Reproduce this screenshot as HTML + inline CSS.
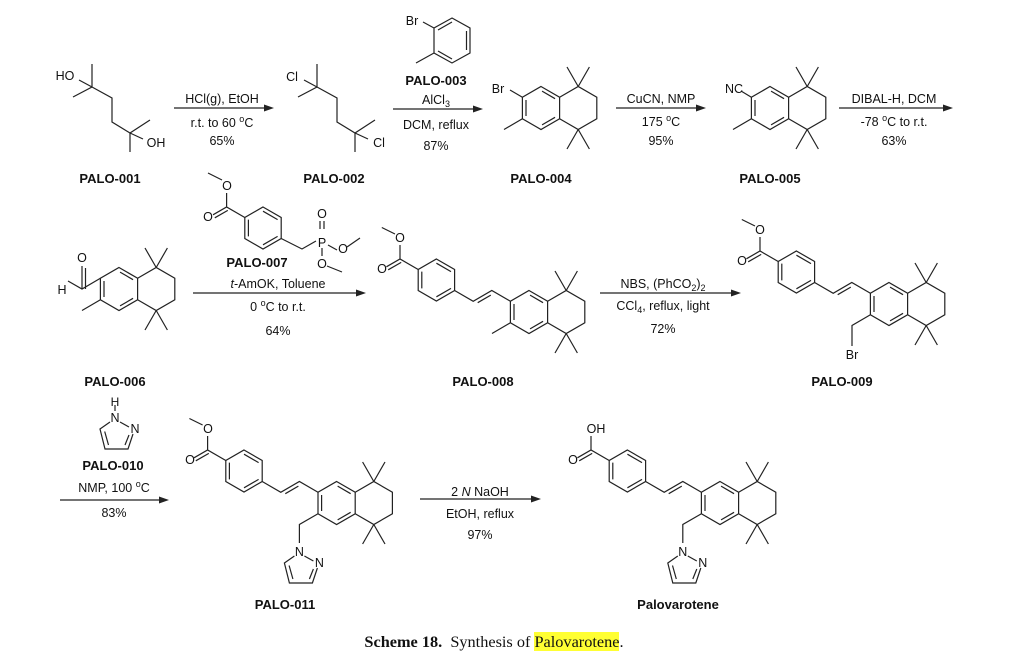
<!DOCTYPE html>
<html><head><meta charset="utf-8"><style>
html,body{margin:0;padding:0;background:#fff;}
#w{position:relative;width:1024px;height:668px;overflow:hidden;}
svg{display:block;}
text{font-family:"Liberation Sans",sans-serif;font-size:12.5px;fill:#111;}
.b{font-weight:bold;font-size:13px;}
.a{font-size:12px;}
#cap{position:absolute;left:-18px;top:632px;width:1024px;text-align:center;font-family:"Liberation Serif",serif;font-size:16.3px;color:#111;line-height:20px;}
#cap span.h{background:#ffff33;}
</style></head><body><div id="w">
<svg width="1024" height="668" viewBox="0 0 1024 668" xmlns="http://www.w3.org/2000/svg">
<defs>
<g id="tet" fill="none" stroke="#222" stroke-width="1.2">
<path d="M0,-21.5 L18.6,-10.75 L18.6,10.75 L0,21.5 L-18.6,10.75 L-18.6,-10.75 Z"/>
<path d="M18.6,-10.75 L37.2,-21.5 L55.8,-10.75 L55.8,10.75 L37.2,21.5 L18.6,10.75"/>
<path d="M37.2,-21.5 L26,-41 M37.2,-21.5 L48.4,-41 M37.2,21.5 L26,41 M37.2,21.5 L48.4,41"/>
<path d="M-15,-8 L-15,8 M1.04,-16.87 L14.06,-9.33 M14.06,9.33 L1.04,16.87"/>
</g>
<g id="bz" fill="none" stroke="#222" stroke-width="1.2">
<path d="M0,-21 L18.2,-10.5 L18.2,10.5 L0,21 L-18.2,10.5 L-18.2,-10.5 Z"/>
<path d="M0,-16.8 L14.6,-8.4 M14.6,8.4 L0,16.8 M-14.6,8.4 L-14.6,-8.4"/>
<path d="M-18.2,-10.5 L-36.4,-21 L-50,-13.2 M-35.2,-17.6 L-48.2,-10.2 M-36.4,-21 L-36.4,-35"/>
</g>
<g id="stil" fill="none" stroke="#222" stroke-width="1.2">
<path d="M-18.6,-10.75 L-37.2,-21.5 L-55.8,-10.75 L-74.4,-21.5"/>
<path d="M-38.2,-16.9 L-51.3,-9.3"/>
</g>
<g id="pz" fill="none" stroke="#222" stroke-width="1.2">
<path d="M5,4 L14,9 M18,16 L13,31 L-10,31 L-15,11 L-5,4"/>
<path d="M-6.5,27 L-10.3,13.5 M10,27 L14,17"/>
</g>
</defs>

<g fill="none" stroke="#222" stroke-width="1.2">
<path d="M79,80 L92,87 M92,64 L92,87 L73,97 M92,87 L112,98 L112,122 L130,133 L150,120 M130,133 L130,152 M130,133 L143,139"/>
<path d="M304,80 L317,87 M317,64 L317,87 L298,97 M317,87 L337,98 L337,122 L355,133 L375,120 M355,133 L355,152 M355,133 L368,139"/>
<path d="M452,18 L470,28 L470,53 L452,63 L434,53 L434,28 Z M466.5,31 L466.5,50 M452,59 L438,51 M438,30 L452,22 M434,28 L423,22 M434,53 L416,63"/>
<path d="M522.4,97.25 L510,90 M522.4,118.75 L504,129.5"/>
<path d="M751.4,97.25 L741,91 M751.4,118.75 L733,129.5"/>
<path d="M100.4,278.25 L82,289 L68,281 M82,289 L82,266 M85.5,289 L85.5,268 M100.4,299.75 L82,310.5"/>
<path d="M281.2,238.5 L302,249 L316,241 M320,229 L320,221 M324,229 L324,221 M328,245 L337,250 M347,247 L360,238 M322,248 L322,256 M327,266 L342,272 M222,180 L208,173"/>
<path d="M510.4,322.75 L492,333.5"/>
<path d="M870.4,314.75 L852,325.5 L852,346"/>
<path d="M318,513.75 L299.4,524.5 L299.4,543"/>
<path d="M701.4,513.75 L682.8,524.5 L682.8,543"/>
<path d="M115,405 L115,411"/>
</g>

<use href="#tet" x="541" y="108"/>
<use href="#tet" x="770" y="108"/>
<use href="#tet" x="119" y="289"/>
<use href="#tet" x="529" y="312"/>
<use href="#tet" x="889" y="304"/>
<use href="#tet" x="336.6" y="503"/>
<use href="#tet" x="720" y="503"/>
<use href="#stil" x="529" y="312"/>
<use href="#stil" x="889" y="304"/>
<use href="#stil" x="336.6" y="503"/>
<use href="#stil" x="720" y="503"/>
<use href="#bz" x="263" y="228"/>
<use href="#bz" x="436.4" y="280"/>
<use href="#bz" x="796.4" y="272"/>
<use href="#bz" x="244" y="471"/>
<use href="#bz" x="627.4" y="471"/>
<g fill="none" stroke="#222" stroke-width="1.2">
<path d="M395,234 L381.8,227.5 M755,226 L741.8,219.5 M202.6,425 L189.4,418.5"/>
</g>
<use href="#pz" x="115" y="418"/>
<use href="#pz" x="299.4" y="552"/>
<use href="#pz" x="682.8" y="552"/>

<g stroke="#222" stroke-width="1.2">
<line x1="174" y1="108" x2="266" y2="108"/>
<line x1="393" y1="109" x2="476" y2="109"/>
<line x1="616" y1="108" x2="698" y2="108"/>
<line x1="839" y1="108" x2="945" y2="108"/>
<line x1="193" y1="293" x2="358" y2="293"/>
<line x1="600" y1="293" x2="733" y2="293"/>
<line x1="60" y1="500" x2="161" y2="500"/>
<line x1="420" y1="499" x2="533" y2="499"/>
</g>
<g fill="#222">
<path d="M274,108 L264,104.5 L264,111.5 Z"/>
<path d="M483,109 L473,105.5 L473,112.5 Z"/>
<path d="M706,108 L696,104.5 L696,111.5 Z"/>
<path d="M953,108 L943,104.5 L943,111.5 Z"/>
<path d="M366,293 L356,289.5 L356,296.5 Z"/>
<path d="M741,293 L731,289.5 L731,296.5 Z"/>
<path d="M169,500 L159,496.5 L159,503.5 Z"/>
<path d="M541,499 L531,495.5 L531,502.5 Z"/>
</g>

<g text-anchor="middle">
<text x="65" y="80">HO</text><text x="156" y="147">OH</text>
<text x="292" y="81">Cl</text><text x="379" y="147">Cl</text>
<text x="412" y="25">Br</text>
<text x="498" y="93">Br</text>
<text x="734" y="93">NC</text>
<text x="82" y="262">O</text><text x="62" y="294">H</text>
<text x="208" y="221">O</text><text x="227" y="190">O</text>
<text x="322" y="218">O</text><text x="322" y="247">P</text><text x="343" y="253">O</text><text x="322" y="268">O</text>
<text x="382" y="273">O</text><text x="400" y="242">O</text>
<text x="742" y="265">O</text><text x="760" y="234">O</text>
<text x="852" y="359">Br</text>
<text x="115" y="406" class="a">H</text><text x="115" y="422">N</text><text x="135" y="433">N</text>
<text x="190" y="464">O</text><text x="208" y="433">O</text>
<text x="299.4" y="556">N</text><text x="319.4" y="567">N</text>
<text x="573" y="464">O</text><text x="596" y="433">OH</text>
<text x="682.8" y="556">N</text><text x="702.8" y="567">N</text>
</g>

<g text-anchor="middle">
<text x="110" y="183" class="b">PALO-001</text>
<text x="334" y="183" class="b">PALO-002</text>
<text x="436" y="85" class="b">PALO-003</text>
<text x="541" y="183" class="b">PALO-004</text>
<text x="770" y="183" class="b">PALO-005</text>
<text x="115" y="386" class="b">PALO-006</text>
<text x="257" y="267" class="b">PALO-007</text>
<text x="483" y="386" class="b">PALO-008</text>
<text x="842" y="386" class="b">PALO-009</text>
<text x="113" y="470" class="b">PALO-010</text>
<text x="285" y="609" class="b">PALO-011</text>
<text x="678" y="609" class="b">Palovarotene</text>
</g>

<g text-anchor="middle">
<text x="222" y="103">HCl(g), EtOH</text>
<text x="222" y="127">r.t. to 60 <tspan font-size="9" dy="-5">o</tspan><tspan dy="5">C</tspan></text>
<text x="222" y="145">65%</text>
<text x="436" y="104">AlCl<tspan font-size="9" dy="3">3</tspan></text>
<text x="436" y="129">DCM, reflux</text>
<text x="436" y="150">87%</text>
<text x="661" y="103">CuCN, NMP</text>
<text x="661" y="126">175 <tspan font-size="9" dy="-5">o</tspan><tspan dy="5">C</tspan></text>
<text x="661" y="145">95%</text>
<text x="894" y="103">DIBAL-H, DCM</text>
<text x="894" y="126">-78 <tspan font-size="9" dy="-5">o</tspan><tspan dy="5">C to r.t.</tspan></text>
<text x="894" y="145">63%</text>
<text x="278" y="288"><tspan font-style="italic">t</tspan>-AmOK, Toluene</text>
<text x="278" y="311">0 <tspan font-size="9" dy="-5">o</tspan><tspan dy="5">C to r.t.</tspan></text>
<text x="278" y="335">64%</text>
<text x="663" y="288">NBS, (PhCO<tspan font-size="9" dy="3">2</tspan><tspan dy="-3">)</tspan><tspan font-size="9" dy="3">2</tspan></text>
<text x="663" y="310">CCl<tspan font-size="9" dy="3">4</tspan><tspan dy="-3">, reflux, light</tspan></text>
<text x="663" y="333">72%</text>
<text x="114" y="492">NMP, 100 <tspan font-size="9" dy="-5">o</tspan><tspan dy="5">C</tspan></text>
<text x="114" y="517">83%</text>
<text x="480" y="496">2 <tspan font-style="italic">N</tspan> NaOH</text>
<text x="480" y="518">EtOH, reflux</text>
<text x="480" y="539">97%</text>
</g>
</svg>
<div id="cap"><b>Scheme 18.</b>&nbsp; Synthesis of <span class="h">Palovarotene</span>.</div>
</div></body></html>
